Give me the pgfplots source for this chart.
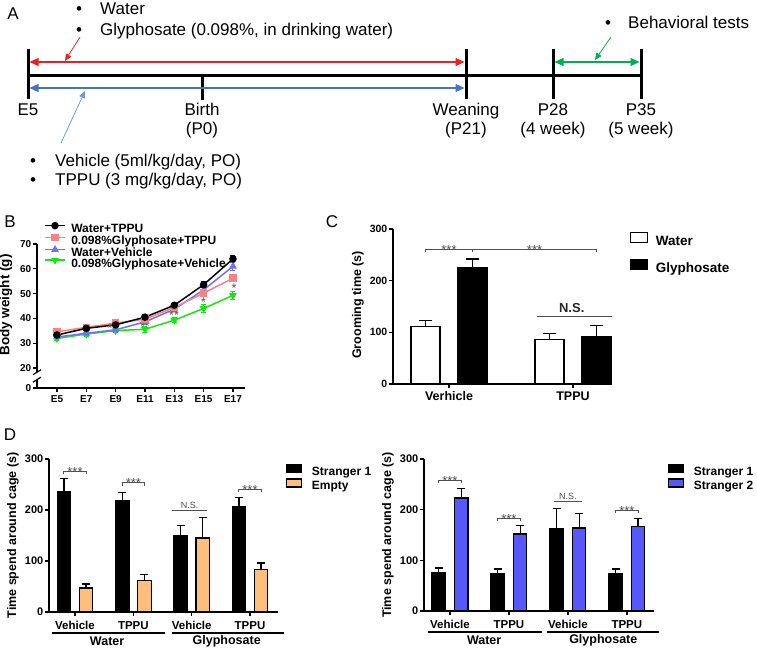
\documentclass[border=0pt]{standalone}
\usepackage{pgfplots}
\pgfplotsset{compat=1.18}
\usepackage{fontspec}
\setmainfont{Liberation Sans}
\usetikzlibrary{arrows.meta}

\definecolor{tlred}{RGB}{240,30,30}
\definecolor{tlblue}{RGB}{68,114,196}
\definecolor{tlblueL}{RGB}{110,150,220}
\definecolor{tlgreen}{RGB}{0,176,80}
\definecolor{cpink}{RGB}{248,130,130}
\definecolor{cblue}{RGB}{110,110,255}
\definecolor{cgreen}{RGB}{20,230,20}
\definecolor{corange}{RGB}{255,190,125}
\definecolor{cviolet}{RGB}{88,88,250}
\definecolor{sig}{RGB}{80,80,80}

\newcommand\fs[1]{\fontsize{#1}{#1}\selectfont}

% significance bracket: x1, x2, y, text centre, text
\newcommand\sigbr[5]{%
  \draw[sig, line width=1pt] ([yshift=-3pt]axis cs:#1,#3) -- (axis cs:#1,#3)
     -- (axis cs:#2,#3) -- ([yshift=-3pt]axis cs:#2,#3);
  \node[sig, font=\fs{13}, anchor=base, inner sep=0pt] at ([yshift=-5pt]axis cs:#4,#3) {#5};}
% N.S. line for panel D
\newcommand\nsline[4]{%
  \draw[sig, line width=1pt] (axis cs:#1,#3) -- (axis cs:#2,#3);
  \node[sig, font=\fs{9}, anchor=base, inner sep=0pt] at ([yshift=2pt]axis cs:#4,#3) {N.S.};}
\newcommand\signote[3]{\node[sig, font=\fs{12.5}, inner sep=0pt] at (axis cs:#1,#2) {#3};}

\pgfplotsset{
  panel/.style={
    anchor=south west, scale only axis, clip=false,
    axis x line*=bottom, axis y line*=left,
    axis line style={line width=1.3pt},
    every tick/.style={black, line width=1.3pt},
    tick align=outside, major tick length=4pt,
    /pgf/number format/assume math mode=true,
    yticklabel style={inner sep=1.5pt},
    legend cell align=left,
  },
  bars/.style={ybar, bar shift=0pt, draw=black, line width=1.2pt,
    /pgfplots/error bars/y dir=plus, /pgfplots/error bars/y explicit,
    /pgfplots/error bars/error bar style={line width=1.2pt, black},
  },
  capD/.style={/pgfplots/error bars/error mark options={rotate=90, mark size=4pt, line width=1.2pt, black}},
  capC/.style={/pgfplots/error bars/error mark options={rotate=90, mark size=6.5pt, line width=1.2pt, black}},
  sqD/.style={legend image code/.code={\draw[##1, line width=1.2pt] (0pt,0pt) rectangle (15pt,8pt);}},
  sqC/.style={legend image code/.code={\draw[##1, line width=1.2pt] (0pt,-0.5pt) rectangle (17pt,9.5pt);}},
  dlegend/.style={legend style={anchor=north west, draw=none, fill=none,
    font=\fs{12}\bfseries, inner sep=0pt, row sep=0pt,
    nodes={inner sep=0.5pt, text height=8pt, text depth=2pt},
    /tikz/every odd column/.style={column sep=9pt}}},
  lineplot/.style={line width=1.5pt, mark size=3pt,
    /pgfplots/error bars/y dir=both, /pgfplots/error bars/y explicit,
    /pgfplots/error bars/error bar style={line width=1pt},
    /pgfplots/error bars/error mark options={rotate=90, mark size=2.5pt, line width=1pt}},
}

\begin{document}
\begin{tikzpicture}
\path[use as bounding box] (0,0) rectangle (757pt,648pt);

%% ---------- panel A: timeline ----------
\begin{scope}[x=1pt, y=-1pt, yshift=648pt, font=\fs{17}]
\node at (13,14) {A};
\node at (10,222) {B};
\node at (332,222) {C};
\node at (10,435) {D};
\node[anchor=base] at (79,15) {\textbullet};
\node[anchor=base west, inner sep=0pt] at (100,15) {Water};
\node[anchor=base] at (79,36) {\textbullet};
\node[anchor=base west, inner sep=0pt] at (100,36) {Glyphosate (0.098\%, in drinking water)};
\node[anchor=base] at (608,29) {\textbullet};
\node[anchor=base west, inner sep=0pt] at (628,29) {Behavioral tests};
\node[anchor=base] at (33,167) {\textbullet};
\node[anchor=base west, inner sep=0pt] at (55,167) {Vehicle (5ml/kg/day, PO)};
\node[anchor=base] at (33,186) {\textbullet};
\node[anchor=base west, inner sep=0pt] at (55,186) {TPPU (3 mg/kg/day, PO)};

\draw[line width=3pt] (28,76) -- (641,76);
\foreach \x in {28,466,553,641} \draw[line width=3pt] (\x,49) -- (\x,99);
\draw[line width=3pt] (202,76) -- (202,100);

\draw[tlred, line width=1.2pt, {Triangle[length=9pt,width=8pt]}-{Triangle[length=9pt,width=8pt]}] (29.5,62) -- (464.5,62);
\draw[tlblue, line width=1.2pt, {Triangle[length=9pt,width=8pt]}-{Triangle[length=9pt,width=8pt]}] (29.5,88) -- (464.5,88);
\draw[tlgreen, line width=1.2pt, {Triangle[length=9pt,width=8pt]}-{Triangle[length=9pt,width=8pt]}] (554.5,62) -- (639.5,62);
\draw[tlred, line width=0.8pt, -{Triangle[length=7pt,width=6pt]}] (80,37) -- (65,61);
\draw[tlblueL, line width=0.8pt, -{Triangle[length=7pt,width=6pt]}] (61,143) -- (85,91);
\draw[tlgreen, line width=0.8pt, -{Triangle[length=7pt,width=6pt]}] (611,37) -- (595,60);

\foreach \x/\a/\b in {28/E5/, 202/Birth/(P0), 466/Weaning/(P21), 553/P28/(4 week), 641/P35/(5 week)} {
  \node[anchor=base] at (\x,116) {\a};
  \node[anchor=base] at (\x,135) {\b};
}
\end{scope}

%% ---------- panel B: body weight ----------
\begin{axis}[panel, at={(37pt,260pt)}, width=208pt, height=144pt,
  xmin=3.64, xmax=17.82, ymin=11.94, ymax=70,
  xtick={5,7,9,11,13,15,17}, xticklabels={E5,E7,E9,E11,E13,E15,E17},
  ytick={11.94,20,30,40,50,60,70}, yticklabels={0,20,30,40,50,60,70},
  tick label style={font=\fs{10}\bfseries},
  ylabel={Body weight (g)},
  ylabel style={font=\fs{13.5}\bfseries, at={(axis description cs:-0.15,0.576)}, anchor=center},
  reverse legend,
  legend style={at={(0.034,1.15)}, anchor=north west, draw=none, fill=none,
    font=\fs{12}\bfseries, inner sep=0pt, row sep=0pt,
    nodes={inner sep=0.5pt, text height=7.5pt, text depth=1.5pt},
    /tikz/every odd column/.style={column sep=5pt}},
  legend image code/.code={\draw[mark repeat=2, mark phase=2, #1]
    plot coordinates {(0pt,4pt) (10pt,4pt) (20pt,4pt)};},
]
\addplot[lineplot, cgreen, mark=triangle*, mark options={rotate=180}] coordinates {
  (5,31.9) +- (0,0.8) (7,33.7) +- (0,0.8) (9,35.1) +- (0,0.9) (11,35.6) +- (0,1.2)
  (13,39.3) +- (0,1.0) (15,44.0) +- (0,1.8) (17,49.3) +- (0,1.6)};
\addlegendentry{0.098\%Glyphosate+Vehicle}
\addplot[lineplot, cblue, mark=triangle*] coordinates {
  (5,32.5) +- (0,0.8) (7,34.0) +- (0,0.8) (9,35.4) +- (0,0.9) (11,38.6) +- (0,0.9)
  (13,43.7) +- (0,0.9) (15,51.5) +- (0,1.2) (17,61.0) +- (0,1.5)};
\addlegendentry{Water+Vehicle}
\addplot[lineplot, cpink, mark=square*] coordinates {
  (5,34.6) +- (0,0.8) (7,36.4) +- (0,0.8) (9,38.1) +- (0,0.8) (11,39.7) +- (0,0.9)
  (13,44.4) +- (0,0.9) (15,50.2) +- (0,1.2) (17,56.2) +- (0,1.5)};
\addlegendentry{0.098\%Glyphosate+TPPU}
\addplot[lineplot, black, mark=*] coordinates {
  (5,33.3) +- (0,0.8) (7,36.0) +- (0,0.8) (9,37.4) +- (0,0.9) (11,40.5) +- (0,0.9)
  (13,45.3) +- (0,0.9) (15,53.6) +- (0,1.3) (17,64.0) +- (0,1.2)};
\addlegendentry{Water+TPPU}
% axis break
\fill[white] ([xshift=-3pt]axis cs:3.64,15.3) rectangle ([xshift=3pt]axis cs:3.64,18.3);
\draw[line width=1.2pt] ([xshift=-4pt,yshift=-2.5pt]axis cs:3.64,18.3) -- ++(8pt,5pt);
\draw[line width=1.2pt] ([xshift=-4pt,yshift=-2.5pt]axis cs:3.64,15.3) -- ++(8pt,5pt);
% significance marks
\signote{8.62}{36.1}{*}
\signote{11.0}{36.9}{**}
\signote{12.98}{41.4}{**}
\signote{15.0}{46.6}{*}
\signote{17.07}{52.3}{*}
\end{axis}

%% ---------- panel C: grooming ----------
\begin{axis}[panel, at={(393pt,264pt)}, width=219pt, height=155pt,
  xmin=-0.452, xmax=1.315, ymin=0, ymax=300, ytick={0,100,200,300},
  xtick={0,1}, xticklabels={Verhicle,TPPU},
  tick label style={font=\fs{10.5}\bfseries},
  xticklabel style={font=\fs{12.5}\bfseries},
  ylabel={Grooming time (s)},
  ylabel style={font=\fs{12.5}\bfseries, at={(axis description cs:-0.16,0.51)}, anchor=center},
  legend style={at={(1.082,0.981)}, anchor=north west, draw=none, fill=none,
    font=\fs{13.5}\bfseries, inner sep=0pt, row sep=10pt,
    nodes={inner sep=0.5pt, text height=9.5pt, text depth=3pt},
    /tikz/every odd column/.style={column sep=7pt}},
]
\addplot[bars, capC, sqC, fill=white, bar width=29pt] coordinates {(-0.19,112) +- (0,11) (0.81,86) +- (0,11)};
\addlegendentry{Water}
\addplot[bars, capC, sqC, fill=black, bar width=29pt] coordinates {(0.19,225) +- (0,17) (1.19,92) +- (0,21)};
\addlegendentry{Glyphosate}
\draw[sig, line width=1pt] ([yshift=-3pt]axis cs:-0.19,261) -- (axis cs:-0.19,261)
  -- (axis cs:1.19,261) -- ([yshift=-3pt]axis cs:1.19,261);
\draw[sig, line width=1pt] (axis cs:0.19,261) -- ([yshift=-3pt]axis cs:0.19,261);
\node[sig, font=\fs{13}, anchor=base, inner sep=0pt] at ([yshift=-5pt]axis cs:0,261) {***};
\node[sig, font=\fs{13}, anchor=base, inner sep=0pt] at ([yshift=-5pt]axis cs:0.69,261) {***};
\draw[sig, line width=1pt] (axis cs:0.71,130) -- (axis cs:1.315,130);
\node[font=\fs{13}\bfseries, anchor=base, inner sep=0pt, black!85] at ([yshift=4pt]axis cs:0.99,130) {N.S.};
\end{axis}

%% ---------- panel D left: stranger 1 vs empty ----------
\begin{axis}[panel, dlegend, at={(49pt,36pt)}, width=229pt, height=153pt,
  xmin=-0.446, xmax=3.48, ymin=0, ymax=300, ytick={0,100,200,300},
  xtick={0,1,2,3}, xticklabels={Vehicle,TPPU,Vehicle,TPPU},
  tick label style={font=\fs{11}\bfseries},
  xticklabel style={font=\fs{11.5}\bfseries, yshift=-2pt},
  ylabel={Time spend around cage (s)},
  ylabel style={font=\fs{12.5}\bfseries, at={(axis description cs:-0.158,0.5)}, anchor=center},
  legend style={at={(1.035,0.967)}},
]
\addplot[bars, capD, sqD, fill=black, bar width=13.5pt] coordinates {
  (-0.19,237) +- (0,24) (0.81,218) +- (0,17) (1.81,149) +- (0,20) (2.81,206) +- (0,18)};
\addlegendentry{Stranger 1}
\addplot[bars, capD, sqD, fill=corange, bar width=13.5pt] coordinates {
  (0.19,47) +- (0,8) (1.19,61) +- (0,12) (2.19,145) +- (0,41) (3.19,84) +- (0,12)};
\addlegendentry{Empty}
\sigbr{-0.19}{0.19}{276}{0}{***}
\sigbr{0.81}{1.19}{253}{1}{***}
\sigbr{2.81}{3.19}{241}{3}{***}
\nsline{1.67}{2.26}{200}{1.965}
\draw[line width=1.2pt] ([yshift=-21pt]axis cs:-0.39,0) -- ([yshift=-21pt]axis cs:1.54,0);
\draw[line width=1.2pt] ([yshift=-21pt]axis cs:1.66,0) -- ([yshift=-21pt]axis cs:3.58,0);
\node[font=\fs{12.5}\bfseries] at ([yshift=-29pt]axis cs:0.55,0) {Water};
\node[font=\fs{12.5}\bfseries] at ([yshift=-29pt]axis cs:2.6,0) {Glyphosate};
\end{axis}

%% ---------- panel D right: stranger 1 vs stranger 2 ----------
\begin{axis}[panel, dlegend, at={(424pt,37pt)}, width=230pt, height=152pt,
  xmin=-0.44, xmax=3.46, ymin=0, ymax=300, ytick={0,100,200,300},
  xtick={0,1,2,3}, xticklabels={Vehicle,TPPU,Vehicle,TPPU},
  tick label style={font=\fs{11}\bfseries},
  xticklabel style={font=\fs{11.5}\bfseries, yshift=-2pt},
  ylabel={Time spend around cage (s)},
  ylabel style={font=\fs{12.5}\bfseries, at={(axis description cs:-0.157,0.5)}, anchor=center},
  legend style={at={(1.061,0.967)}},
]
\addplot[bars, capD, sqD, fill=black, bar width=13.5pt] coordinates {
  (-0.19,75) +- (0,10) (0.81,73) +- (0,10) (1.81,162) +- (0,41) (2.81,73) +- (0,10)};
\addlegendentry{Stranger 1}
\addplot[bars, capD, sqD, fill=cviolet, bar width=13.5pt] coordinates {
  (0.19,223) +- (0,18) (1.19,152) +- (0,16) (2.19,164) +- (0,29) (3.19,166) +- (0,17)};
\addlegendentry{Stranger 2}
\sigbr{-0.19}{0.19}{258}{0}{***}
\sigbr{0.81}{1.19}{183}{1}{***}
\sigbr{2.81}{3.19}{199}{3}{***}
\nsline{1.76}{2.24}{217}{2}
\draw[line width=1.2pt] ([yshift=-21pt]axis cs:-0.37,0) -- ([yshift=-21pt]axis cs:1.56,0);
\draw[line width=1.2pt] ([yshift=-21pt]axis cs:1.64,0) -- ([yshift=-21pt]axis cs:3.54,0);
\node[font=\fs{12.5}\bfseries] at ([yshift=-29pt]axis cs:0.58,0) {Water};
\node[font=\fs{12.5}\bfseries] at ([yshift=-29pt]axis cs:2.6,0) {Glyphosate};
\end{axis}
\end{tikzpicture}
\end{document}
